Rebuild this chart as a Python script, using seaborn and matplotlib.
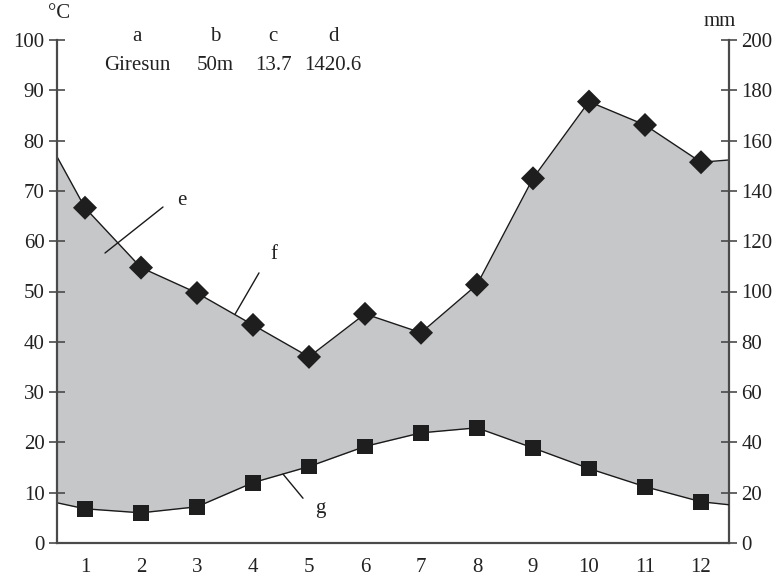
import matplotlib
matplotlib.use("Agg")
import matplotlib.pyplot as plt
import seaborn as sns
import numpy as np
import pandas as pd

# ---- data ----
months = [1, 2, 3, 4, 5, 6, 7, 8, 9, 10, 11, 12]
temp_c = [6.8, 6.0, 7.2, 12.0, 15.2, 19.2, 21.9, 22.9, 18.9, 14.8, 11.2, 8.2]
precip_mm = [133.3, 109.5, 99.4, 86.7, 74.0, 91.1, 83.6, 102.7, 145.0, 175.5, 166.2, 151.4]
edge_x = [0.5, 12.5]
temp_edge = [8.0, 7.6]
precip_edge = [153.6, 152.3]
header_keys = ["a", "b", "c", "d"]
header_vals = ["Giresun", "50m", "13.7", "1420.6"]
left_ticks = list(range(0, 101, 10))
right_ticks = list(range(0, 201, 20))

sns.set_theme(style="white")
plt.rcParams["font.family"] = ["Liberation Serif", "DejaVu Serif"]

x_ext = [edge_x[0]] + months + [edge_x[1]]
t_ext = [temp_edge[0]] + temp_c + [temp_edge[1]]
p_ext = [precip_edge[0]] + precip_mm + [precip_edge[1]]
df_line = pd.DataFrame({"x": x_ext, "t": t_ext, "p": p_ext})
df_pts = pd.DataFrame({"x": months, "t": temp_c, "p": precip_mm})

fig = plt.figure(figsize=(7.79, 5.81), dpi=100)
ax = fig.add_axes([57 / 779, 1 - 543 / 581, 672 / 779, 503 / 581])
ax2 = ax.twinx()

ax.set_xlim(0.5, 12.5)
ax.set_ylim(0, 100)
ax2.set_ylim(0, 200)

# fill between temperature (°C) and precipitation (mm, 2 mm = 1 °C)
ax2.fill_between(df_line["x"], df_line["t"] * 2, df_line["p"], color="#c6c7c9", lw=0, zorder=0)

sns.lineplot(data=df_line, x="x", y="p", ax=ax2, color="#1a1a1a", lw=1.0, zorder=2)
sns.lineplot(data=df_line, x="x", y="t", ax=ax, color="#1a1a1a", lw=1.0, zorder=2)
sns.scatterplot(data=df_pts, x="x", y="p", ax=ax2, marker="D", s=150, color="#1e1e1e",
                edgecolor="none", zorder=3)
sns.scatterplot(data=df_pts, x="x", y="t", ax=ax, marker="s", s=130, color="#1e1e1e",
                edgecolor="none", zorder=3)

ax.set_zorder(ax2.get_zorder() + 1)
ax.patch.set_visible(False)

spine_col = "#4a4a4a"
for a in (ax, ax2):
    a.set_xlabel("")
    a.set_ylabel("")
    a.spines["top"].set_visible(False)
    for s in ("left", "right", "bottom"):
        a.spines[s].set_color(spine_col)
        a.spines[s].set_linewidth(1.6)

ax.spines["right"].set_visible(False)
ax2.spines["left"].set_visible(False)
ax2.spines["bottom"].set_visible(False)

fs = 15
ax.set_yticks(left_ticks)
ax.set_yticklabels([str(v) for v in left_ticks], fontsize=fs)
ax2.set_yticks(right_ticks)
ax2.set_yticklabels([str(v) for v in right_ticks], fontsize=fs)
ax.tick_params(axis="y", direction="inout", length=12, width=1.2, color=spine_col, pad=3,
               left=True, labelcolor="#222222")
ax2.tick_params(axis="y", direction="inout", length=12, width=1.2, color=spine_col, pad=3,
                right=True, labelcolor="#222222")

ax.set_xticks([m + 0.5 for m in months[:-1]])
ax.set_xticklabels([])
ax.set_xticks(months, minor=True)
ax.set_xticklabels([str(m) for m in months], minor=True, fontsize=fs, color="#222222")
ax.tick_params(axis="x", which="major", direction="inout", length=12, width=1.2,
               color=spine_col, bottom=True)
ax.tick_params(axis="x", which="minor", length=0, pad=11, bottom=True)
ax2.set_xticks([])

# header
ax.text(0.34, 105.2, "°C", fontsize=fs, ha="left", va="center", clip_on=False, color="#222222")
ax2.text(12.04, 207.5, "mm", fontsize=fs, ha="left", va="center", clip_on=False, color="#222222")
hx = [1.93, 3.32, 4.36, 5.43]
for xk, k, v in zip(hx, header_keys, header_vals):
    ax.text(xk, 100.6, k, fontsize=fs, ha="center", va="center", color="#222222", clip_on=False)
    ax.text(xk, 95.0, v, fontsize=fs, ha="center", va="center", color="#222222")

# annotation leaders
ax.plot([1.357, 2.393], [57.65, 66.8], color="#1a1a1a", lw=1.0)
ax.text(2.72, 68.0, "e", fontsize=fs, ha="center", va="center", color="#222222")
ax.plot([3.68, 4.107], [45.5, 53.7], color="#1a1a1a", lw=1.0)
ax.text(4.38, 57.3, "f", fontsize=fs, ha="center", va="center", color="#222222")
ax.plot([4.536, 4.893], [13.7, 8.9], color="#1a1a1a", lw=1.0)
ax.text(5.2, 6.9, "g", fontsize=fs, ha="center", va="center", color="#222222")

fig.savefig("out.png", dpi=100)
